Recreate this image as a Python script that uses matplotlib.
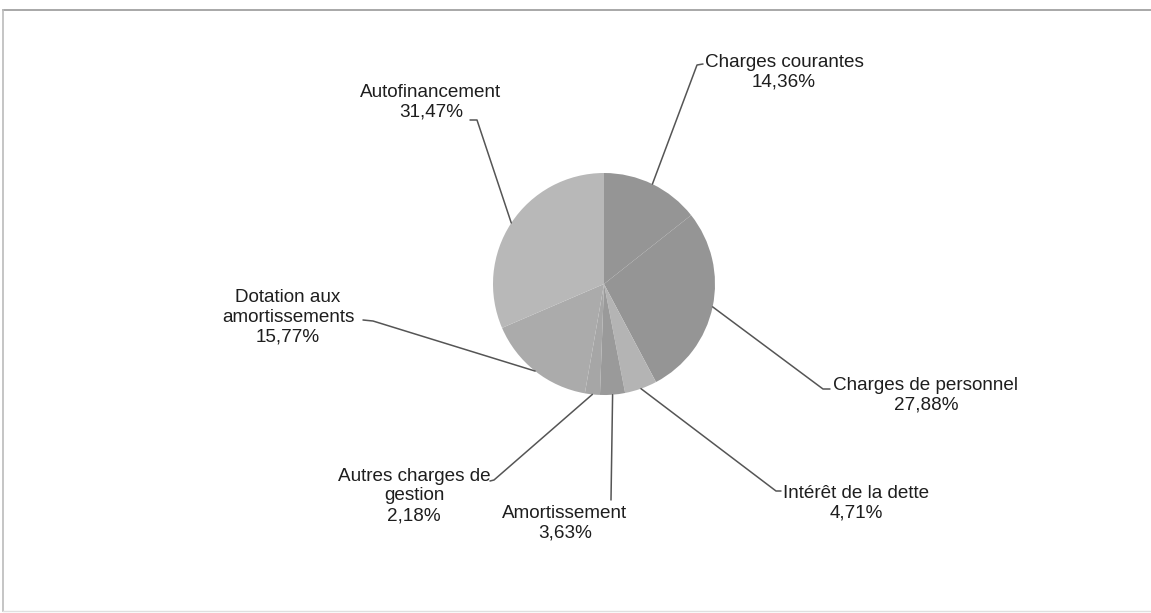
import numpy as np
import matplotlib
matplotlib.use("Agg")
import matplotlib.pyplot as plt

# data
labels = ["Charges courantes", "Charges de personnel", "Intérêt de la dette",
          "Amortissement", "Autres charges de\ngestion",
          "Dotation aux\namortissements", "Autofinancement"]
values = [14.36, 27.88, 4.71, 3.63, 2.18, 15.77, 31.47]
colors = ["#959595", "#959595", "#b4b4b4", "#9a9a9a", "#a6a6a6", "#ababab", "#b8b8b8"]

# layout in pixels (y measured from top of the image)
W, H = 1151, 613
cx, cy, R = 604, 284, 111
# text block centre and leader elbow / end points per label
text_pos = [(784, 72), (926, 395), (856, 503), (565, 523), (414, 496), (288, 317), (431, 102)]
elbows = [[(697, 65), (703, 64)], [(823, 389), (830, 389)], [(776, 491), (781, 491)],
          [(611, 500)], [(494, 480), (490, 481)], [(373, 321), (363, 320)],
          [(477, 120), (470, 120)]]

plt.rcParams['font.family'] = ['Liberation Sans', 'DejaVu Sans']
fig = plt.figure(figsize=(W / 100, H / 100), dpi=100)
ax = fig.add_axes([0, 0, 1, 1])

def fy(y):
    return H - y

wedges, _ = ax.pie(values, colors=colors, startangle=90, counterclock=False,
                   radius=R, center=(cx, fy(cy)), frame=True,
                   wedgeprops=dict(linewidth=0))
ax.set_xlim(0, W)
ax.set_ylim(0, H)
ax.set_aspect('auto')
ax.axis('off')

# leader lines from the middle of each wedge
for w, val, lab, tp, el in zip(wedges, values, labels, text_pos, elbows):
    ang = np.deg2rad((w.theta1 + w.theta2) / 2)
    x0 = cx + R * np.cos(ang)
    y0 = fy(cy) + R * np.sin(ang)
    xs = [x0] + [p[0] for p in el]
    ys = [y0] + [fy(p[1]) for p in el]
    ax.plot(xs, ys, color="#555555", lw=1.1, solid_capstyle='round')
    txt = lab + "\n" + f"{val:.2f}".replace(".", ",") + "%"
    ax.text(tp[0], fy(tp[1]), txt, ha='center', va='center', fontsize=13.6,
            color="#1e1e1e", linespacing=1.2, multialignment='center')

# chart frame
ax.plot([3, W], [fy(10), fy(10)], color="#9a9a9a", lw=1.2)
ax.plot([3, 3], [fy(10), fy(611)], color="#bbbbbb", lw=1.2)
ax.plot([3, W], [fy(611), fy(611)], color="#e0e0e0", lw=1.0)

fig.savefig("out.png", dpi=100)
